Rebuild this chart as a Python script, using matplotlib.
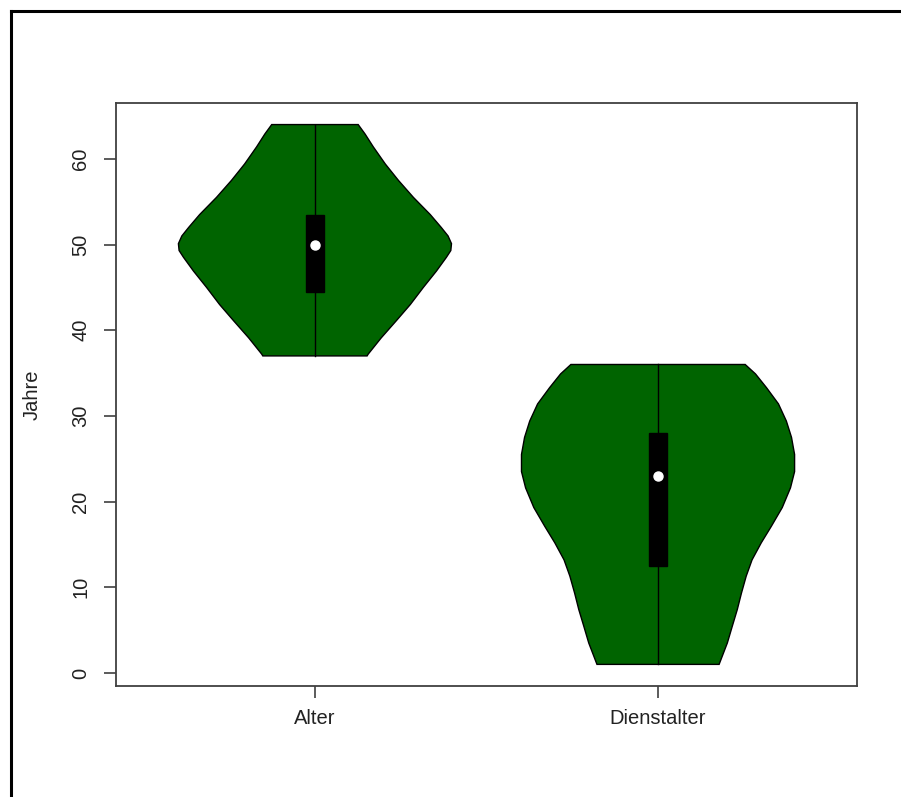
import matplotlib.pyplot as plt
from matplotlib.lines import Line2D
import numpy as np

plt.rcParams['font.family'] = ['Liberation Sans', 'DejaVu Sans']

labels = ['Alter', 'Dienstalter']

# Dichteprofil (halbe Breite) je Variable
alter_y = [37.0, 37.2, 39.1, 41.1, 43.0, 45.0, 46.9, 48.5, 49.3, 50.1,
           51.0, 52.0, 53.5, 55.5, 57.5, 59.4, 61.4, 62.9, 64.0]
alter_w = [0.152, 0.155, 0.193, 0.237, 0.278, 0.316, 0.354, 0.383, 0.396, 0.398,
           0.388, 0.368, 0.336, 0.287, 0.243, 0.205, 0.170, 0.146, 0.126]

dienst_y = [1.0, 3.5, 5.4, 7.4, 9.3, 11.3, 13.2, 15.2, 17.1, 19.3,
            21.6, 23.5, 25.5, 27.5, 29.4, 31.4, 33.3, 34.9, 36.0]
dienst_w = [0.178, 0.202, 0.216, 0.231, 0.243, 0.257, 0.274, 0.301, 0.330, 0.362,
            0.386, 0.398, 0.398, 0.389, 0.374, 0.351, 0.316, 0.284, 0.254]

# Min, Q1, Median, Q3, Max
alter_stats = [37, 44.5, 50, 53.5, 64]
dienst_stats = [1, 12.5, 23, 28, 36]

profiles = [(alter_y, alter_w), (dienst_y, dienst_w)]
stats = [alter_stats, dienst_stats]

fig = plt.figure(figsize=(9.01, 7.97), dpi=100)
ax = fig.add_axes([0.1287, 0.1393, 0.8225, 0.7315])

for i, ((ys, ws), st) in enumerate(zip(profiles, stats)):
    pos = i + 1
    ys = np.array(ys)
    ws = np.array(ws)
    xs = np.concatenate([pos + ws, (pos - ws)[::-1]])
    yy = np.concatenate([ys, ys[::-1]])
    ax.fill(xs, yy, facecolor='#006400', edgecolor='black', linewidth=1, zorder=2)
    ax.plot([pos, pos], [st[0], st[4]], color='black', linewidth=1, zorder=3)
    ax.add_patch(plt.Rectangle((pos - 0.026, st[1]), 0.052, st[3] - st[1],
                               facecolor='black', edgecolor='black', zorder=4))
    ax.plot(pos, st[2], 'o', color='white', markersize=6.5, zorder=5)

ax.set_xlim(0.42, 2.58)
ax.set_ylim(-1.52, 66.52)
ax.set_xticks([1, 2])
ax.set_xticklabels(labels)
ax.set_yticks(range(0, 61, 10))
ax.set_yticklabels([str(v) for v in range(0, 61, 10)], rotation=90, va='center')
ax.set_ylabel('Jahre', fontsize=14.5, color='#222222', labelpad=21)

for s in ax.spines.values():
    s.set_color('#404040')
    s.set_linewidth(1.3)
ax.tick_params(length=8.6, width=1.2, color='#404040', labelsize=14.5,
               labelcolor='#222222')
ax.tick_params(axis='x', pad=8)
ax.tick_params(axis='y', pad=10)

# schwarzer Rahmen links und oben
fig.add_artist(Line2D([10.5 / 901, 10.5 / 901], [0, 1 - 11 / 797],
                      transform=fig.transFigure, color='black', linewidth=2.2))
fig.add_artist(Line2D([10.5 / 901, 1], [1 - 11 / 797, 1 - 11 / 797],
                      transform=fig.transFigure, color='black', linewidth=2.2))

fig.savefig('out.png', dpi=100)
